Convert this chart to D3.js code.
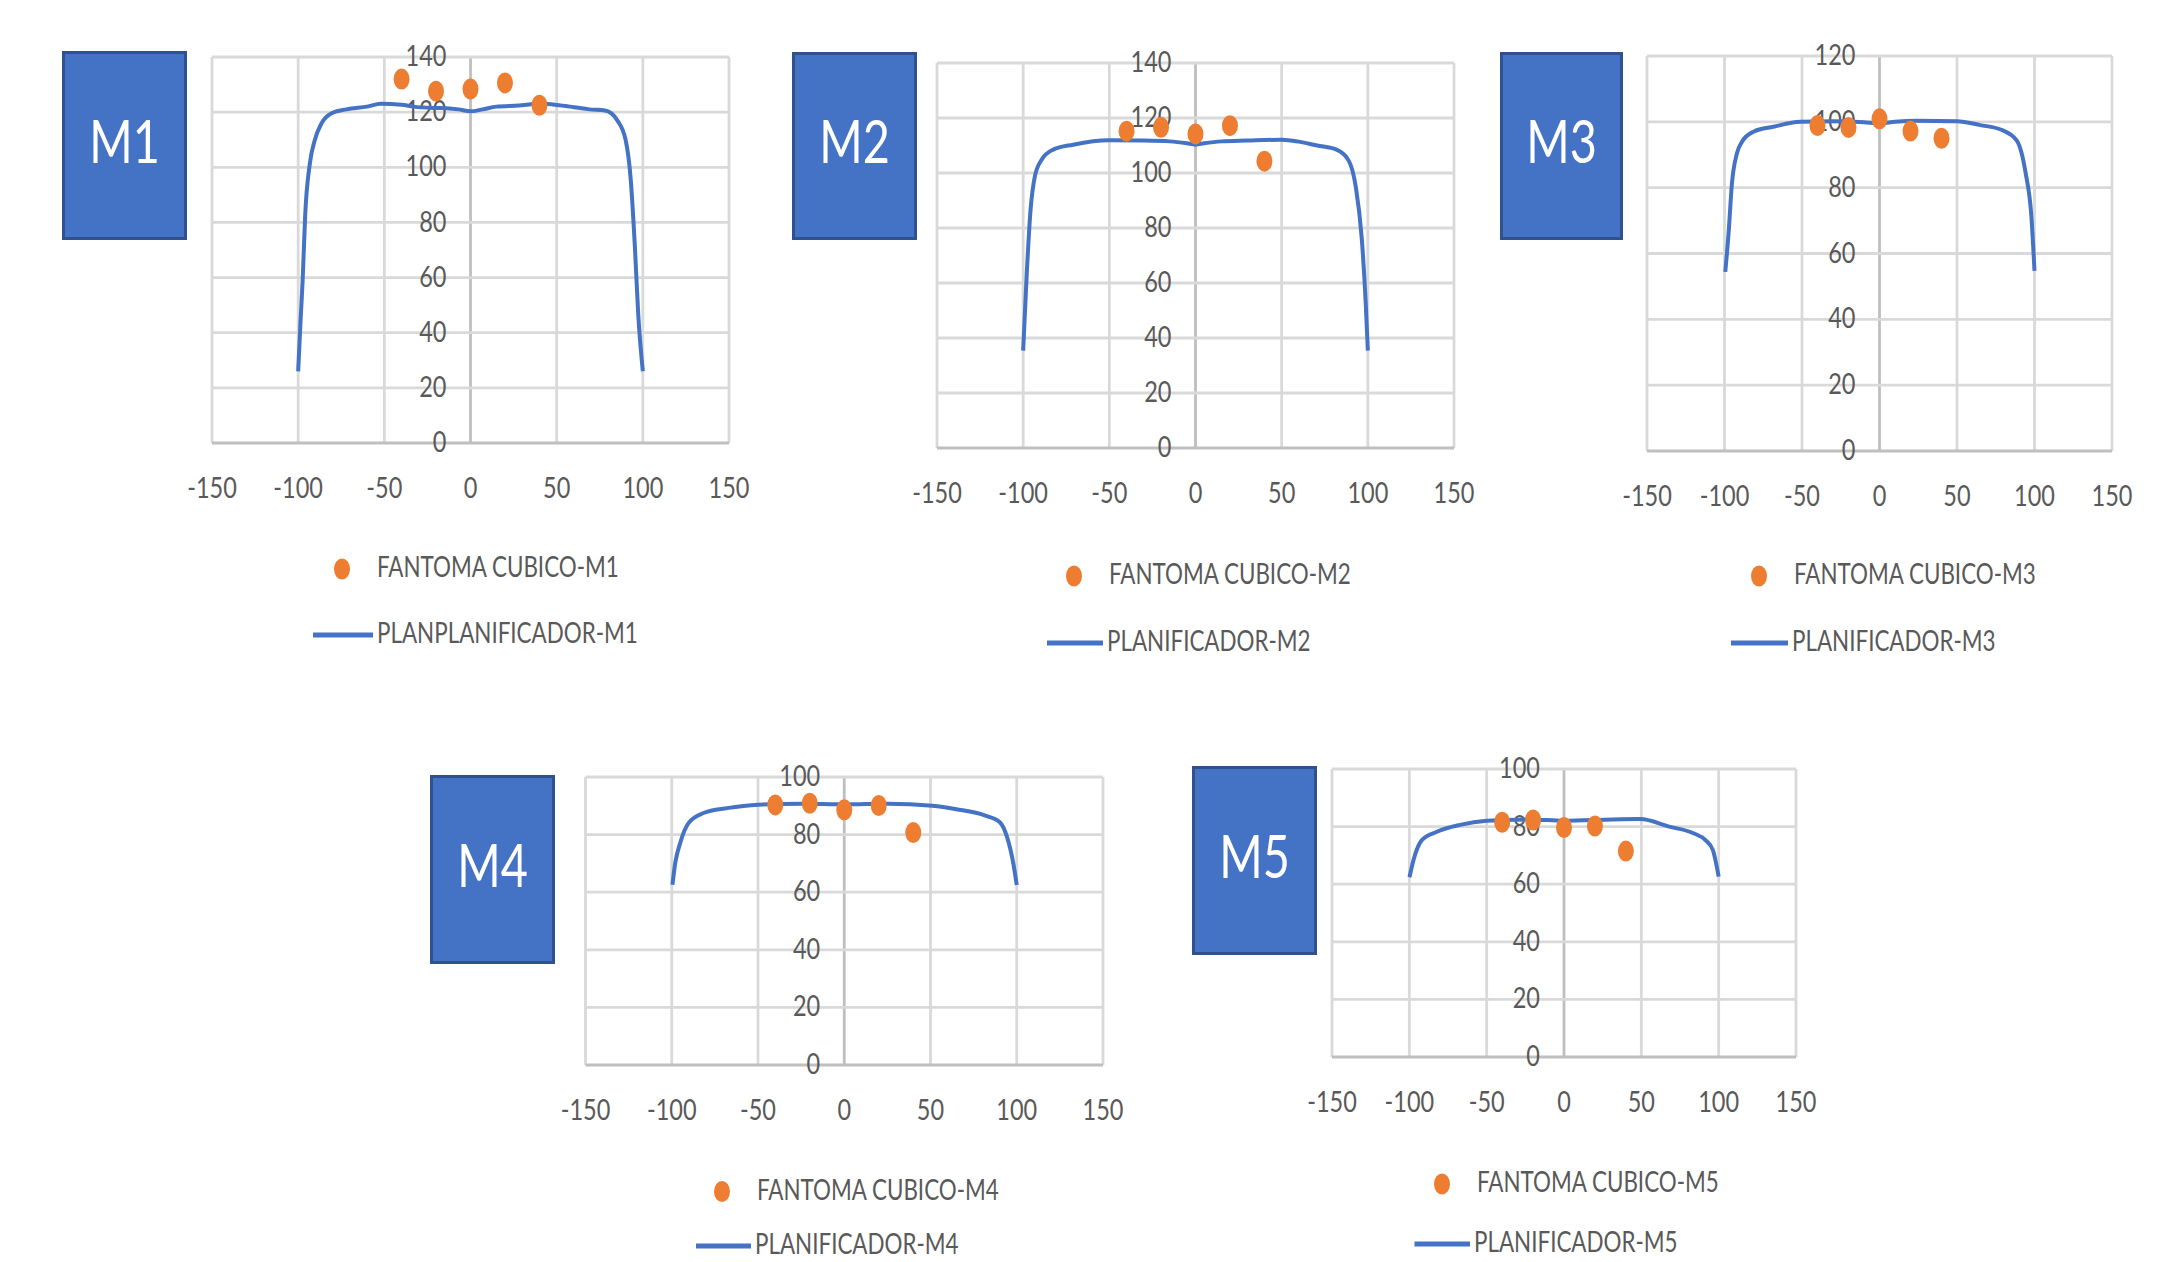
<!DOCTYPE html>
<html><head><meta charset="utf-8">
<script src="https://cdn.jsdelivr.net/npm/d3@7"></script>
<style>body{margin:0;background:#fff;} svg{display:block;}</style>
</head><body><svg id="c" width="2172" height="1262"></svg>
<script>
// ---------- DATA ----------
const xTicks = [-150, -100, -50, 0, 50, 100, 150];
const yTicks140 = [0, 20, 40, 60, 80, 100, 120, 140];
const yTicks120 = [0, 20, 40, 60, 80, 100, 120];
const yTicks100 = [0, 20, 40, 60, 80, 100];

const panelNames = ["M1", "M2", "M3", "M4", "M5"];
const dotLegend = ["FANTOMA CUBICO-M1", "FANTOMA CUBICO-M2", "FANTOMA CUBICO-M3", "FANTOMA CUBICO-M4", "FANTOMA CUBICO-M5"];
const lineLegend = ["PLANPLANIFICADOR-M1", "PLANIFICADOR-M2", "PLANIFICADOR-M3", "PLANIFICADOR-M4", "PLANIFICADOR-M5"];

const dotX = [-40, -20, 0, 20, 40];
const m1Dots = [132, 127.6, 128.4, 130.6, 122.5];
const m2Dots = [115.2, 116.6, 114.2, 117.2, 104.3];
const m3Dots = [98.9, 98.3, 100.9, 97.2, 95];
const m4Dots = [90.3, 90.9, 88.6, 90.1, 80.7];
const m5Dots = [81.5, 82.3, 79.7, 80.2, 71.5];

const m1PlanX = [-100, -98.6, -97.4, -95.9, -93.2, -90.3, -86.4, -80.6, -72, -60, -52, -40, -33, -20, -14, -7, 0, 7, 15, 28, 40, 50, 60, 69, 78, 85, 90, 93, 95.4, 97.3, 100];
const m1PlanY = [26, 44.5, 59, 83, 101.5, 110, 116, 119.6, 121, 122, 123, 122.7, 122, 121.5, 121.4, 121, 120.3, 121, 122, 122.4, 123, 122.6, 121.8, 121, 120.6, 117.2, 110, 95.4, 71, 47, 26];

const m2PlanX = [-100, -98, -95.7, -93.2, -89.3, -82.6, -71, -50, -30, -15, -5, 0, 5, 15, 30, 50, 60, 70.6, 81.8, 88.9, 93, 96.5, 98.8, 100];
const m2PlanY = [35.4, 62.4, 86.7, 98.8, 104.8, 108.5, 110.3, 111.9, 111.8, 111.5, 110.8, 110.3, 110.8, 111.5, 111.8, 112.1, 111.4, 110, 108.5, 104.5, 95, 76, 52.4, 35.4];

const m3PlanX = [-99.5, -97.4, -95.2, -92, -88.8, -81.3, -68.4, -51.2, -29.7, -10, 0, 10, 24, 50, 65, 78.6, 88.6, 94.3, 98, 100];
const m3PlanY = [54.4, 66, 81.3, 90.4, 93.9, 97, 98.5, 100, 100.2, 99.9, 99.5, 100, 100.3, 100.2, 99, 97.6, 94.3, 84.4, 71.2, 54.7];

const m4PlanX = [-99.6, -98, -95.1, -90.3, -81.6, -68, -49.7, -25, 0, 25, 51.1, 65, 81.8, 90.2, 94.4, 98, 100];
const m4PlanY = [62.6, 70.1, 77.1, 84, 87.5, 89.2, 90.4, 90.7, 90.5, 90.7, 90, 88.8, 86.6, 84.3, 79.1, 70, 62.5];

const m5PlanX = [-99.9, -97.3, -91.9, -82.2, -67.2, -50, -22, 0, 31.9, 49.2, 68, 83.7, 91.5, 96.2, 100];
const m5PlanY = [62.4, 68.4, 75.3, 78.2, 80.6, 82, 82.5, 82, 82.5, 82.6, 80, 77.7, 75.3, 71.9, 62.6];

// ---------- LAYOUT (positions only) ----------
const layout = [
  {plot:[212, 57, 729, 443], box:[62, 51, 187, 240], leg:[342, 569, 313, 373, 635]},
  {plot:[937, 63, 1454, 448], box:[792, 52, 917, 240], leg:[1074, 576, 1047, 1103, 643]},
  {plot:[1647, 56, 2112, 451], box:[1500, 52, 1623, 240], leg:[1759, 576, 1731, 1788, 643]},
  {plot:[585.5, 777, 1103, 1065], box:[430, 775, 555, 964], leg:[722, 1191.5, 696, 751, 1246]},
  {plot:[1332, 769, 1796, 1057], box:[1192, 766, 1317, 955], leg:[1442, 1184, 1414.5, 1470, 1244]}
];

const panels = [
  {yTicks: yTicks140, dots: m1Dots, px: m1PlanX, py: m1PlanY},
  {yTicks: yTicks140, dots: m2Dots, px: m2PlanX, py: m2PlanY},
  {yTicks: yTicks120, dots: m3Dots, px: m3PlanX, py: m3PlanY},
  {yTicks: yTicks100, dots: m4Dots, px: m4PlanX, py: m4PlanY},
  {yTicks: yTicks100, dots: m5Dots, px: m5PlanX, py: m5PlanY}
];

const FONT = "Lato, 'Open Sans', sans-serif";
const TXT = "#595959";
const svg = d3.select("#c");

panels.forEach((p, i) => {
  const L = layout[i];
  const [x0, y0, x1, y1] = L.plot;
  const yMax = d3.max(p.yTicks);
  const x = d3.scaleLinear().domain([-150, 150]).range([x0, x1]);
  const y = d3.scaleLinear().domain([0, yMax]).range([y1, y0]);
  const g = svg.append("g");

  // grid
  g.selectAll(".vg").data(xTicks).join("line")
    .attr("x1", d => x(d)).attr("x2", d => x(d)).attr("y1", y0).attr("y2", y1)
    .attr("stroke", d => d === 0 ? "#BFBFBF" : "#D9D9D9").attr("stroke-width", 2.8);
  g.selectAll(".hg").data(p.yTicks).join("line")
    .attr("x1", x0).attr("x2", x1).attr("y1", d => y(d)).attr("y2", d => y(d))
    .attr("stroke", d => d === 0 ? "#BFBFBF" : "#D9D9D9").attr("stroke-width", 2.8);

  // y tick labels at the x=0 axis
  g.selectAll(".yl").data(p.yTicks).join("text")
    .attr("transform", d => `translate(${x(0) - 24},${y(d) + 2}) scale(0.84,1)`)
    .attr("text-anchor", "end").attr("dominant-baseline", "middle")
    .attr("font-family", FONT).attr("font-size", 28).attr("fill", TXT)
    .text(d => d);

  // x tick labels
  g.selectAll(".xl").data(xTicks).join("text")
    .attr("transform", d => `translate(${x(d)},${y1 + 48}) scale(0.84,1)`)
    .attr("text-anchor", "middle").attr("dominant-baseline", "middle")
    .attr("font-family", FONT).attr("font-size", 28).attr("fill", TXT)
    .text(d => d);

  // plan line
  const pts = p.px.map((v, k) => [v, p.py[k]]);
  g.append("path").datum(pts)
    .attr("d", d3.line().x(d => x(d[0])).y(d => y(d[1])).curve(d3.curveMonotoneX))
    .attr("fill", "none").attr("stroke", "#4472C4").attr("stroke-width", 4)
    .attr("stroke-linejoin", "round");

  // dots
  g.selectAll(".dot").data(dotX.map((v, k) => [v, p.dots[k]])).join("ellipse")
    .attr("cx", d => x(d[0])).attr("cy", d => y(d[1]))
    .attr("rx", 8).attr("ry", 10.5).attr("fill", "#ED7D31");

  // label box
  const [bx0, by0, bx1, by1] = L.box;
  g.append("rect").attr("x", bx0 + 1.5).attr("y", by0 + 1.5)
    .attr("width", bx1 - bx0 - 3).attr("height", by1 - by0 - 3)
    .attr("fill", "#4472C4").attr("stroke", "#2F528F").attr("stroke-width", 3);
  g.append("text")
    .attr("transform", `translate(${(bx0 + bx1) / 2},${(by0 + by1) / 2 + 2}) scale(0.78,1)`)
    .attr("text-anchor", "middle").attr("dominant-baseline", "middle")
    .attr("font-family", FONT).attr("font-size", 60).attr("fill", "#fff")
    .text(panelNames[i]);

  // legend
  const [dx, dy, lx0, lx1, ly] = L.leg;
  g.append("ellipse").attr("cx", dx).attr("cy", dy).attr("rx", 8).attr("ry", 10.5).attr("fill", "#ED7D31");
  g.append("text")
    .attr("transform", `translate(${dx + 35},${dy + 1}) scale(0.8,1)`)
    .attr("dominant-baseline", "middle")
    .attr("font-family", FONT).attr("font-size", 28).attr("fill", TXT)
    .text(dotLegend[i]);
  g.append("line").attr("x1", lx0).attr("x2", lx1).attr("y1", ly).attr("y2", ly)
    .attr("stroke", "#4472C4").attr("stroke-width", 5);
  g.append("text")
    .attr("transform", `translate(${lx1 + 4},${ly + 1}) scale(0.8,1)`)
    .attr("dominant-baseline", "middle")
    .attr("font-family", FONT).attr("font-size", 28).attr("fill", TXT)
    .text(lineLegend[i]);
});
</script></body></html>
